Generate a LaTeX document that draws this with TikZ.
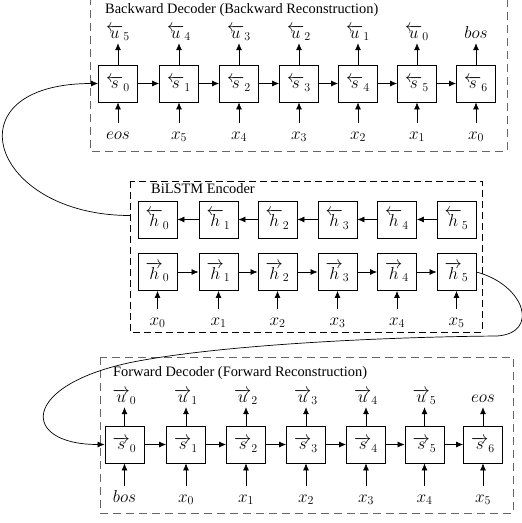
\documentclass[tikz,border=0pt]{standalone}
\usepackage{fontspec}
\setmainfont{Liberation Serif}
\usetikzlibrary{arrows.meta}
\begin{document}
\begin{tikzpicture}[x=1pt,y=-1pt,
  cell/.style={draw, line width=0.8pt, minimum width=39pt, minimum height=37pt, inner sep=0pt, font=\fontsize{17.28}{20}\selectfont},
  toplab/.style={anchor=base, inner sep=1pt, text depth=4pt, font=\fontsize{17.28}{20}\selectfont},
  botlab/.style={anchor=base, inner sep=1pt, text height=15pt, font=\fontsize{17.28}{20}\selectfont},
  arr/.style={-{Latex[length=7pt,width=6pt]}, line width=0.7pt},
  frameg/.style={dash pattern=on 8pt off 5pt, line width=0.9pt, draw=black!60},
  framek/.style={dash pattern=on 7pt off 4pt, line width=0.7pt, draw=black},
  ttl/.style={font=\fontsize{14.4}{16}\selectfont, anchor=west, inner sep=0pt}]
\useasboundingbox (0,0) rectangle (522,523);
\clip (0,0) rectangle (522,523);

% ---------- Backward decoder ----------
\draw[frameg] (90,-3) rectangle (507,151);
\node[ttl] (t1) at (105,10) {Backward Decoder (Backward Reconstruction)};
\foreach \i/\x in {0/118,1/179,2/239,3/299,4/358,5/417,6/476}{
  \node[cell] (bs\i) at (\x,83.5) {$\overleftarrow{s}_{\i}$};
}
\foreach \i/\x/\l in {0/118/5,1/179/4,2/239/3,3/299/2,4/358/1,5/417/0}{
  \node[toplab] (bu\i) at (\x,38) {$\overleftarrow{u}_{\l}$};
}
\node[toplab] (bu6) at (476,38) {$bos$};
\node[botlab] (bx0) at (118,139) {$eos$};
\foreach \i/\x/\l in {1/179/5,2/239/4,3/299/3,4/358/2,5/417/1,6/476/0}{
  \node[botlab] (bx\i) at (\x,139) {$x_{\l}$};
}
\foreach \i in {0,...,6}{
  \draw[arr] (bs\i.north) -- (bu\i.south);
  \draw[arr] (bx\i.north) -- (bs\i.south);
}
\foreach \i [evaluate=\i as \j using int(\i+1)] in {0,...,5}{
  \draw[arr] (bs\i.east) -- (bs\j.west);
}

% ---------- BiLSTM encoder ----------
\draw[framek] (130,181) rectangle (482,332);
\node[ttl] (t2) at (151,189) {BiLSTM Encoder};
\foreach \i/\x in {0/157.5,1/218.5,2/277.5,3/337.5,4/397,5/456.5}{
  \node[cell] (hb\i) at (\x,219.5) {$\overleftarrow{h}_{\i}$};
  \node[cell] (hf\i) at (\x,272) {$\overrightarrow{h}_{\i}$};
  \node[botlab] (hx\i) at (\x,325) {$x_{\i}$};
  \draw[arr] (hx\i.north) -- (hf\i.south);
}
\foreach \i [evaluate=\i as \j using int(\i+1)] in {0,...,4}{
  \draw[arr] (hf\i.east) -- (hf\j.west);
  \draw[arr] (hb\j.west) -- (hb\i.east);
}

% ---------- Forward decoder ----------
\draw[frameg] (100,357) rectangle (513,513);
\node[ttl] (t3) at (113,373) {Forward Decoder (Forward Reconstruction)};
\foreach \i/\x in {0/124.5,1/186,2/246,3/306,4/366,5/424.5,6/483}{
  \node[cell] (fs\i) at (\x,444.5) {$\overrightarrow{s}_{\i}$};
}
\foreach \i/\x in {0/124.5,1/186,2/246,3/306,4/366,5/424.5}{
  \node[toplab] (fu\i) at (\x,402) {$\overrightarrow{u}_{\i}$};
}
\node[toplab] (fu6) at (483,402) {$eos$};
\node[botlab] (fx0) at (124.5,502) {$bos$};
\foreach \i/\x/\l in {1/186/0,2/246/1,3/306/2,4/366/3,5/424.5/4,6/483/5}{
  \node[botlab] (fx\i) at (\x,502) {$x_{\l}$};
}
\foreach \i in {0,...,6}{
  \draw[arr] (fs\i.north) -- (fu\i.south);
  \draw[arr] (fx\i.north) -- (fs\i.south);
}
\foreach \i [evaluate=\i as \j using int(\i+1)] in {0,...,5}{
  \draw[arr] (fs\i.east) -- (fs\j.west);
}

% ---------- connecting curves ----------
\coordinate (ca) at (130,215.5);
\draw[arr] (ca) .. controls (-10,215.5) and (-52,83.5) .. (bs0.west);
\draw[arr] (hf5.east) .. controls (525,285) and (540,333) .. (497,336)
  .. controls (380,337) and (220,345) .. (133,362)
  .. controls (20,385) and (20,444.5) .. (fs0.west);
\end{tikzpicture}
\end{document}
